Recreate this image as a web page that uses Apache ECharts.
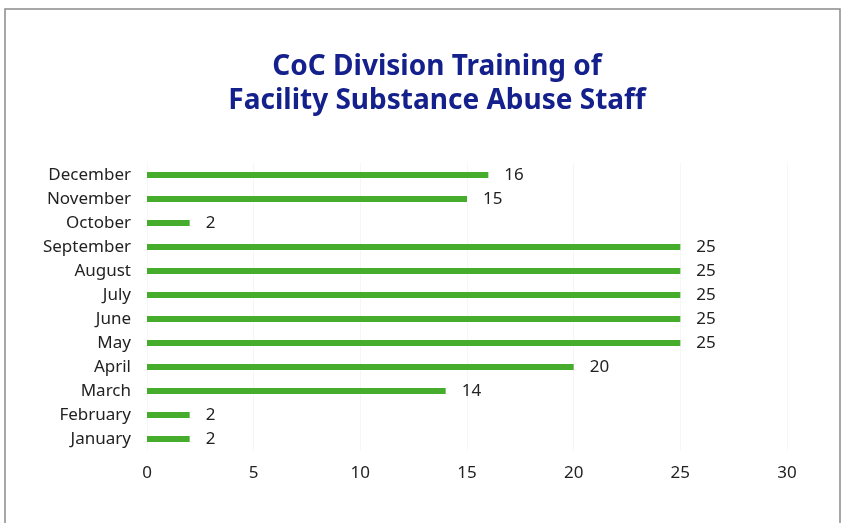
<!DOCTYPE html>
<html>
<head>
<meta charset="utf-8">
<script src="https://cdn.jsdelivr.net/npm/echarts@6/dist/echarts.min.js"></script>
<style>
  html, body { margin: 0; padding: 0; background: #fff; }
  #main { width: 850px; height: 523px; }
</style>
</head>
<body>
<div id="main"></div>
<script>
// categories bottom-to-top as drawn on the y axis
var months = ["January", "February", "March", "April", "May", "June",
  "July", "August", "September", "October", "November", "December"];
var trained = [2, 2, 14, 20, 25, 25, 25, 25, 25, 2, 15, 16];
var xTicks = [0, 5, 10, 15, 20, 25, 30];

var chart = echarts.init(document.getElementById("main"));
chart.setOption({
  backgroundColor: "#fff",
  title: {
    text: "CoC Division Training of\nFacility Substance Abuse Staff",
    left: 432,
    top: 45,
    textAlign: "center",
    textStyle: {
      fontFamily: "Noto Sans",
      fontWeight: "bold",
      fontSize: 28,
      lineHeight: 34,
      color: "#14208c"
    }
  },
  graphic: [{
    type: "rect",
    shape: { x: 5, y: 9, width: 835, height: 530 },
    style: { fill: "none", stroke: "#8a8a8a", lineWidth: 1.5 },
    silent: true
  }],
  grid: { left: 147, right: 63, top: 163, bottom: 72 },
  xAxis: {
    type: "value",
    min: xTicks[0],
    max: xTicks[xTicks.length - 1],
    interval: 5,
    axisLine: { show: false },
    axisTick: { show: false },
    splitLine: { show: true, lineStyle: { color: "#f6f6f6", width: 1 } },
    axisLabel: { margin: 14, fontSize: 17, color: "#222", fontFamily: "Noto Sans" }
  },
  yAxis: {
    type: "category",
    data: months,
    axisLine: { show: false },
    axisTick: { show: false },
    axisLabel: { margin: 16, fontSize: 17, color: "#222", fontFamily: "Noto Sans" }
  },
  series: [{
    type: "bar",
    data: trained,
    barWidth: 6,
    itemStyle: { color: "#46ad2c" },
    label: {
      show: true,
      position: "right",
      distance: 16,
      fontSize: 17,
      color: "#222",
      fontFamily: "Noto Sans"
    }
  }]
});
</script>
</body>
</html>
